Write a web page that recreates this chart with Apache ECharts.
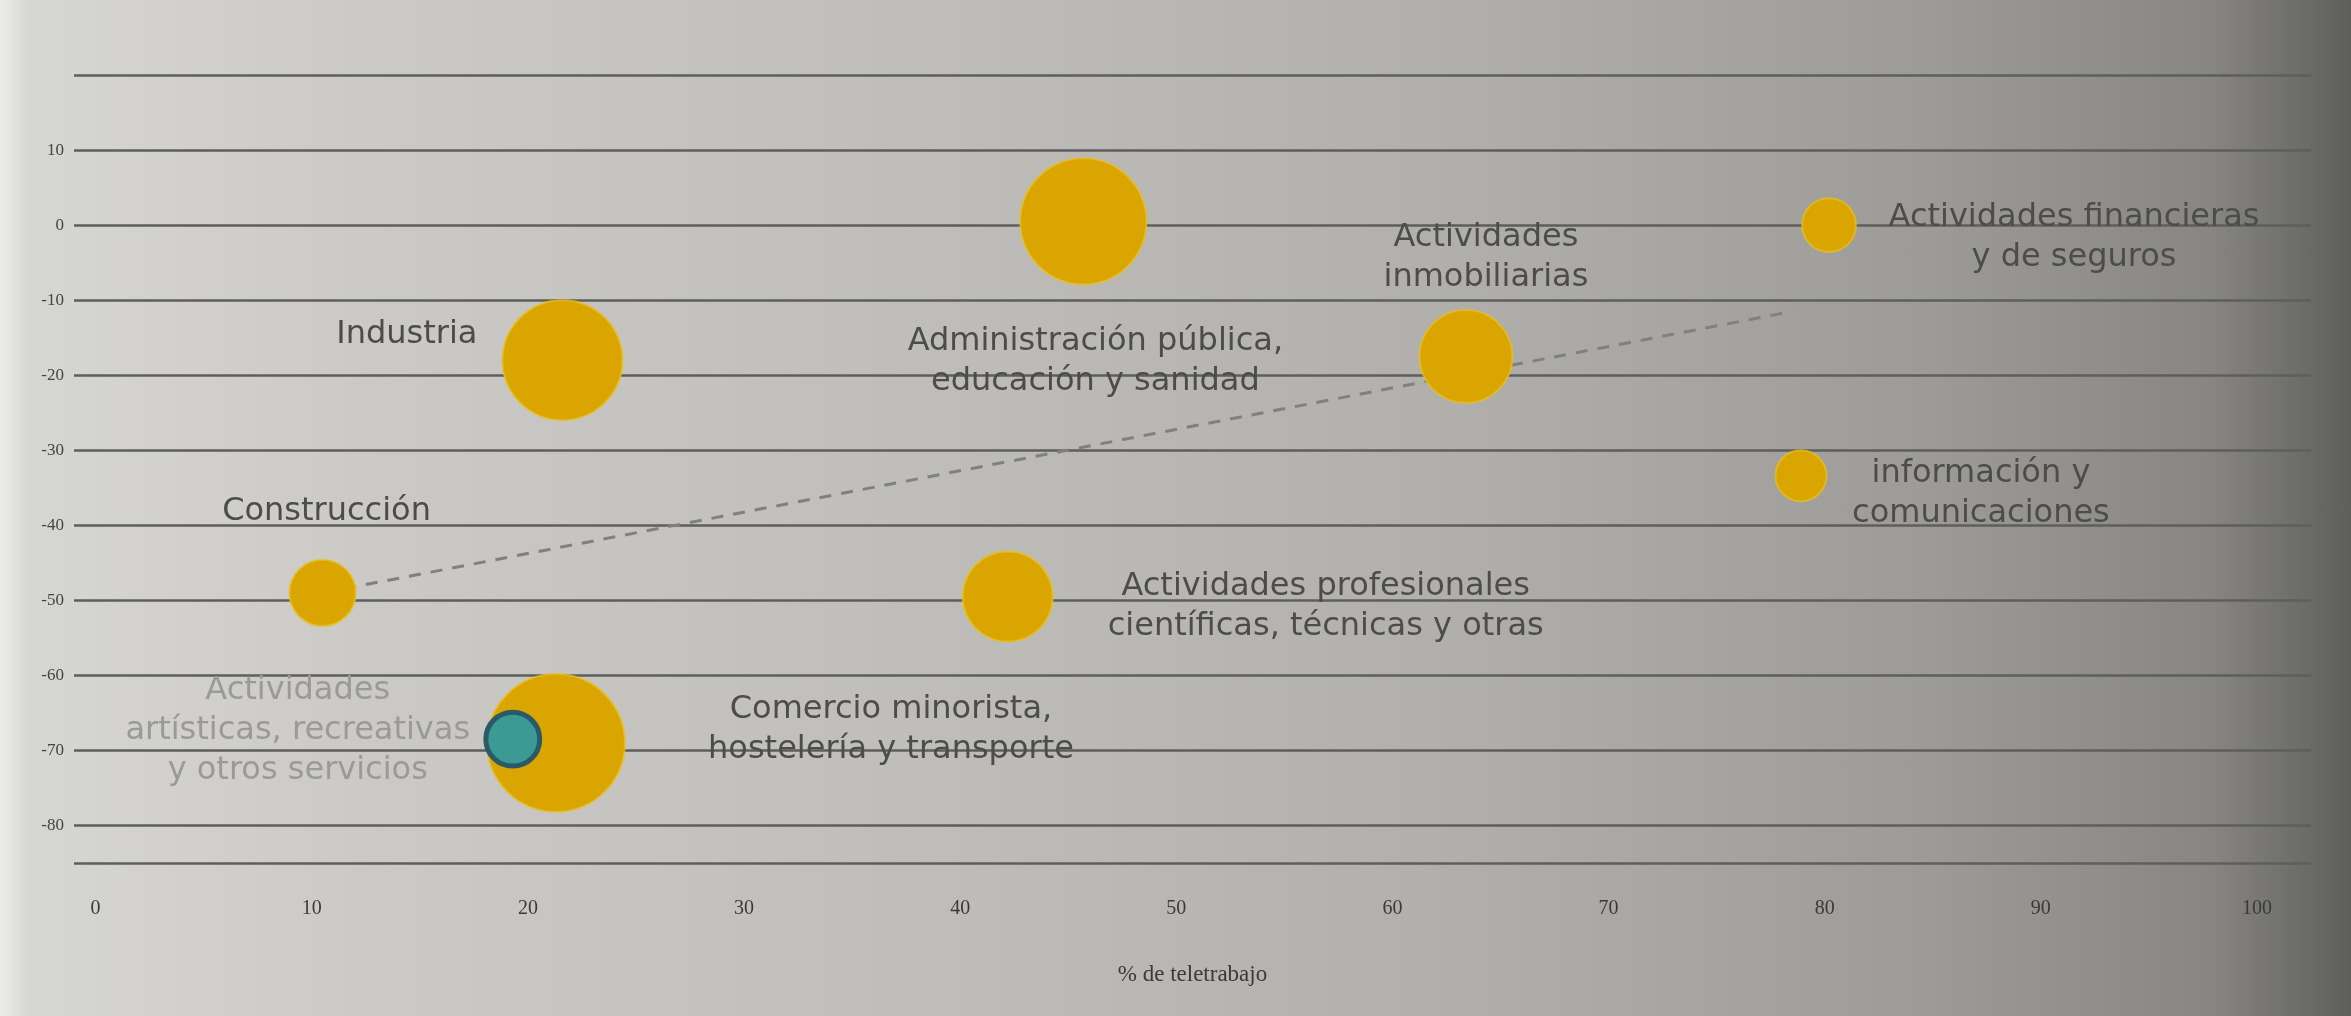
<!DOCTYPE html>
<html>
<head>
<meta charset="utf-8">
<script src="https://cdn.jsdelivr.net/npm/echarts@6/dist/echarts.min.js"></script>
<style>
  html, body { margin: 0; padding: 0; }
  body {
    width: 2351px; height: 1016px; overflow: hidden;
    background: linear-gradient(to right, #ececea 0%, #d6d6d2 1.2%, #cccac6 15%, #bebdb9 40%, #b0afab 62%, #9c9b97 82%, #878682 94%, #5e5e5a 100%);
  }
  #chart { width: 2351px; height: 1016px; }
</style>
</head>
<body>
<div id="chart"></div>
<script>
// sectors
const sectors = [
  'Industria',
  'Administración pública,\neducación y sanidad',
  'Actividades\ninmobiliarias',
  'Actividades financieras\ny de seguros',
  'información y\ncomunicaciones',
  'Construcción',
  'Actividades profesionales\ncientíficas, técnicas y otras',
  'Comercio minorista,\nhostelería y transporte',
  'Actividades\nartísticas, recreativas\ny otros servicios'
];
const teletrabajo = [21.6, 45.7, 63.4, 80.2, 78.9, 10.5, 42.2, 21.3, 19.3];
const variacion = [-18, 0.5, -17.5, 0, -33.4, -49, -49.5, -69, -68.5];
// relative bubble area
const peso = [144, 159, 86, 29, 26, 44, 81, 190, 29];

// dashed trend line
const tendenciaX = [10.5, 78.5];
const tendenciaY = [-49, -11.5];

const xTicks = [0, 10, 20, 30, 40, 50, 60, 70, 80, 90, 100];
const yTicks = [10, 0, -10, -20, -30, -40, -50, -60, -70, -80];
const yLines = [20, 10, 0, -10, -20, -30, -40, -50, -60, -70, -80, -85];

// label placement relative to bubble centre
const labelLayout = [
  { align: 'right', offset: [-85, -25] },
  { align: 'center', offset: [12, 140] },
  { align: 'center', offset: [20, -99] },
  { align: 'center', offset: [245, 13] },
  { align: 'center', offset: [180, 18] },
  { align: 'center', offset: [4, -81] },
  { align: 'center', offset: [318, 10] },
  { align: 'center', offset: [335, -13] },
  { align: 'center', offset: [-215, -8], color: '#9a9a98' }
];

const chart = echarts.init(document.getElementById('chart'));

const last = sectors.length - 1;
const bubbles = sectors.map((name, i) => {
  const lay = labelLayout[i];
  return {
    name: name,
    value: [teletrabajo[i], variacion[i], peso[i]],
    itemStyle: {
      color: i === last ? '#3b9a94' : '#dba500',
      borderColor: i === last ? '#2a5a68' : 'rgba(232,192,30,0.7)',
      borderWidth: i === last ? 5 : 2,
      opacity: 1
    },
    label: {
      align: lay.align,
      offset: lay.offset,
      color: lay.color || '#4c4c4c'
    }
  };
});

const option = {
  backgroundColor: 'transparent',
  animation: false,
  grid: { left: 74, right: 40, top: 75, bottom: 153 },
  xAxis: {
    type: 'value',
    min: -1,
    max: 102.5,
    name: '% de teletrabajo',
    nameLocation: 'middle',
    nameGap: 100,
    nameTextStyle: { fontFamily: 'Liberation Serif', fontSize: 23, color: '#3a3a3a' },
    axisLine: { show: false },
    axisTick: { show: false, customValues: xTicks },
    splitLine: { show: false },
    axisLabel: {
      customValues: xTicks,
      margin: 36,
      fontFamily: 'Liberation Serif',
      fontSize: 20,
      color: '#3a3a3a'
    }
  },
  yAxis: {
    type: 'value',
    min: -85,
    max: 20,
    axisLine: { show: false },
    axisTick: { show: false, customValues: yLines },
    splitLine: { show: true, lineStyle: { color: '#5e5e5c', width: 2.5 } },
    axisLabel: {
      customValues: yTicks,
      margin: 10,
      fontFamily: 'Liberation Serif',
      fontSize: 17,
      color: '#444'
    }
  },
  series: [
    {
      type: 'line',
      data: tendenciaX.map((x, i) => [x, tendenciaY[i]]),
      symbol: 'none',
      lineStyle: { color: '#808080', width: 3, type: [12, 10] },
      z: 1
    },
    {
      type: 'scatter',
      data: bubbles,
      symbolSize: v => Math.sqrt(v[2]) * 10,
      label: {
        show: true,
        position: 'inside',
        formatter: p => p.name,
        fontFamily: 'DejaVu Sans',
        fontSize: 32,
        lineHeight: 40,
        color: '#4c4c4c'
      },
      z: 3
    }
  ]
};

chart.setOption(option);
</script>
</body>
</html>
